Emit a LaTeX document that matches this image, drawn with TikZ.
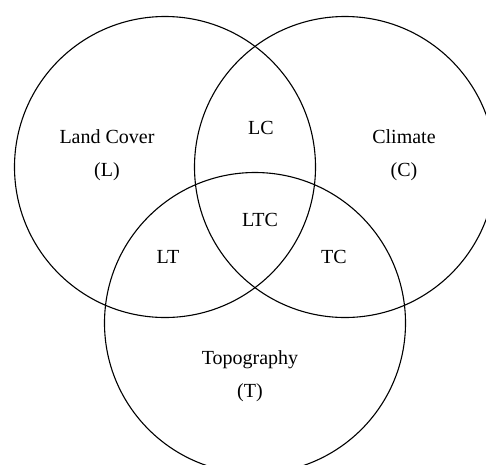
\documentclass[tikz,border=0pt]{standalone}
\usepackage{fontspec}
\setmainfont{Liberation Serif}
\begin{document}
\begin{tikzpicture}[x=1pt,y=-1pt,
  ring/.style={draw=black,line width=1.1pt,circle,minimum size=301pt,inner sep=0pt},
  lbl/.style={font=\fontsize{20}{24}\selectfont,inner sep=0pt,align=center,anchor=base}]
\useasboundingbox (0,0) rectangle (486,464);
\clip (0,0) rectangle (486,464);
\node[ring] (L) at (165,167) {};
\node[ring] (C) at (345,167) {};
\node[ring] (T) at (255,323) {};
\node[lbl] (tL) at (107,143) {Land Cover};
\node[lbl] (tL2) at (107,176) {(L)};
\node[lbl] (tLC) at (261,134) {LC};
\node[lbl] (tC) at (404,143) {Climate};
\node[lbl] (tC2) at (404,176) {(C)};
\node[lbl] (tLTC) at (260,226) {LTC};
\node[lbl] (tLT) at (168,263) {LT};
\node[lbl] (tTC) at (334,263) {TC};
\node[lbl] (tT) at (250,364) {Topography};
\node[lbl] (tT2) at (250,397) {(T)};
\end{tikzpicture}
\end{document}
